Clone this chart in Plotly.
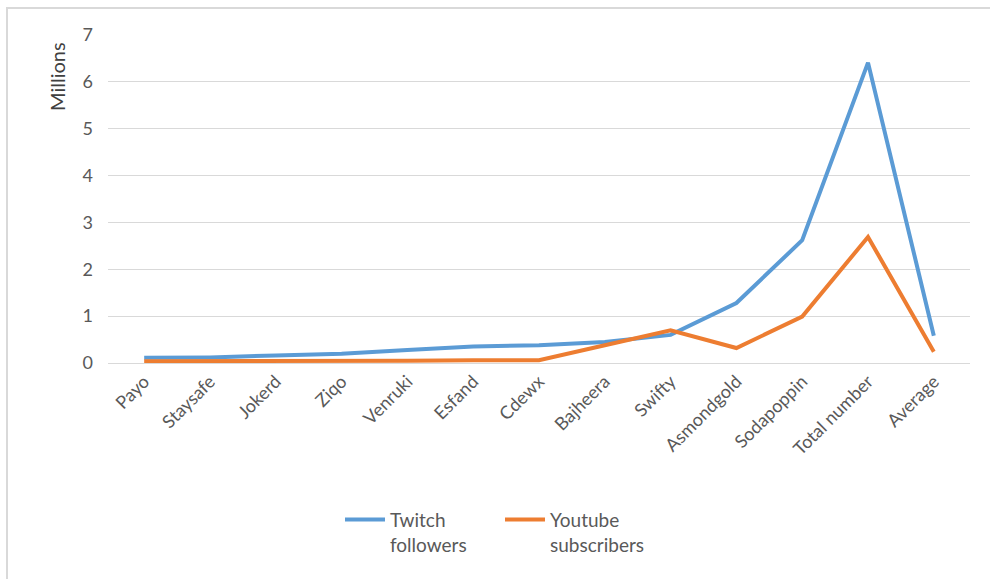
import plotly.graph_objects as go

categories = ["Payo", "Staysafe", "Jokerd", "Ziqo", "Venruki", "Esfand", "Cdewx",
              "Bajheera", "Swifty", "Asmondgold", "Sodapoppin", "Total number", "Average"]
twitch = [0.11, 0.12, 0.16, 0.20, 0.28, 0.35, 0.38, 0.45, 0.60, 1.28, 2.62, 6.41, 0.58]
youtube = [0.04, 0.04, 0.03, 0.04, 0.05, 0.06, 0.06, 0.38, 0.70, 0.32, 0.99, 2.69, 0.24]
y_ticks = [0, 1, 2, 3, 4, 5, 6, 7]

FONT = "Lato, 'Open Sans', sans-serif"
GREY = "#595959"

fig = go.Figure()
fig.add_trace(go.Scatter(x=categories, y=twitch, mode="lines", name="Twitch<br>followers",
                         line=dict(color="#5B9BD5", width=4)))
fig.add_trace(go.Scatter(x=categories, y=youtube, mode="lines", name="Youtube<br>subscribers",
                         line=dict(color="#ED7D31", width=4)))

L, R, T, B = 108, 20, 35, 216
W, H = 990, 579
pw, ph = W - L - R, H - T - B

fig.update_layout(
    width=W, height=H,
    margin=dict(l=L, r=R, t=T, b=B),
    paper_bgcolor="white", plot_bgcolor="white",
    font=dict(family=FONT, size=18, color=GREY),
    showlegend=True,
    legend=dict(orientation="h", x=(340 - L) / pw, xanchor="left", y=-0.42, yanchor="top",
                font=dict(size=19, color=GREY), itemwidth=40, traceorder="normal",
                valign="top", entrywidth=105, entrywidthmode="pixels"),
    xaxis=dict(type="category", tickangle=-45, showgrid=False, showline=True,
               linecolor="#D9D9D9", linewidth=1, ticks="", tickfont=dict(size=18, color=GREY),
               range=[-0.55, 12.55]),
    yaxis=dict(range=[0, 7], tickvals=y_ticks, showgrid=True, gridcolor="#D9D9D9",
               gridwidth=1, zeroline=False, showline=False, ticks="", ticklabelstandoff=14,
               tickfont=dict(size=18, color=GREY)),
)

fig.add_annotation(text="Millions", textangle=-90, xref="paper", yref="paper",
                   x=(57 - L) / pw, y=(H - B - 77) / ph, showarrow=False,
                   font=dict(size=20, color="#404040"), xanchor="center", yanchor="middle")

# chart border
fig.add_shape(type="rect", xref="paper", yref="paper",
              x0=(7 - L) / pw, x1=(1000 - L) / pw,
              y0=(H - B - 590) / ph, y1=(H - B - 8) / ph,
              line=dict(color="#D9D9D9", width=2), layer="below")

fig.write_html("out.html")
